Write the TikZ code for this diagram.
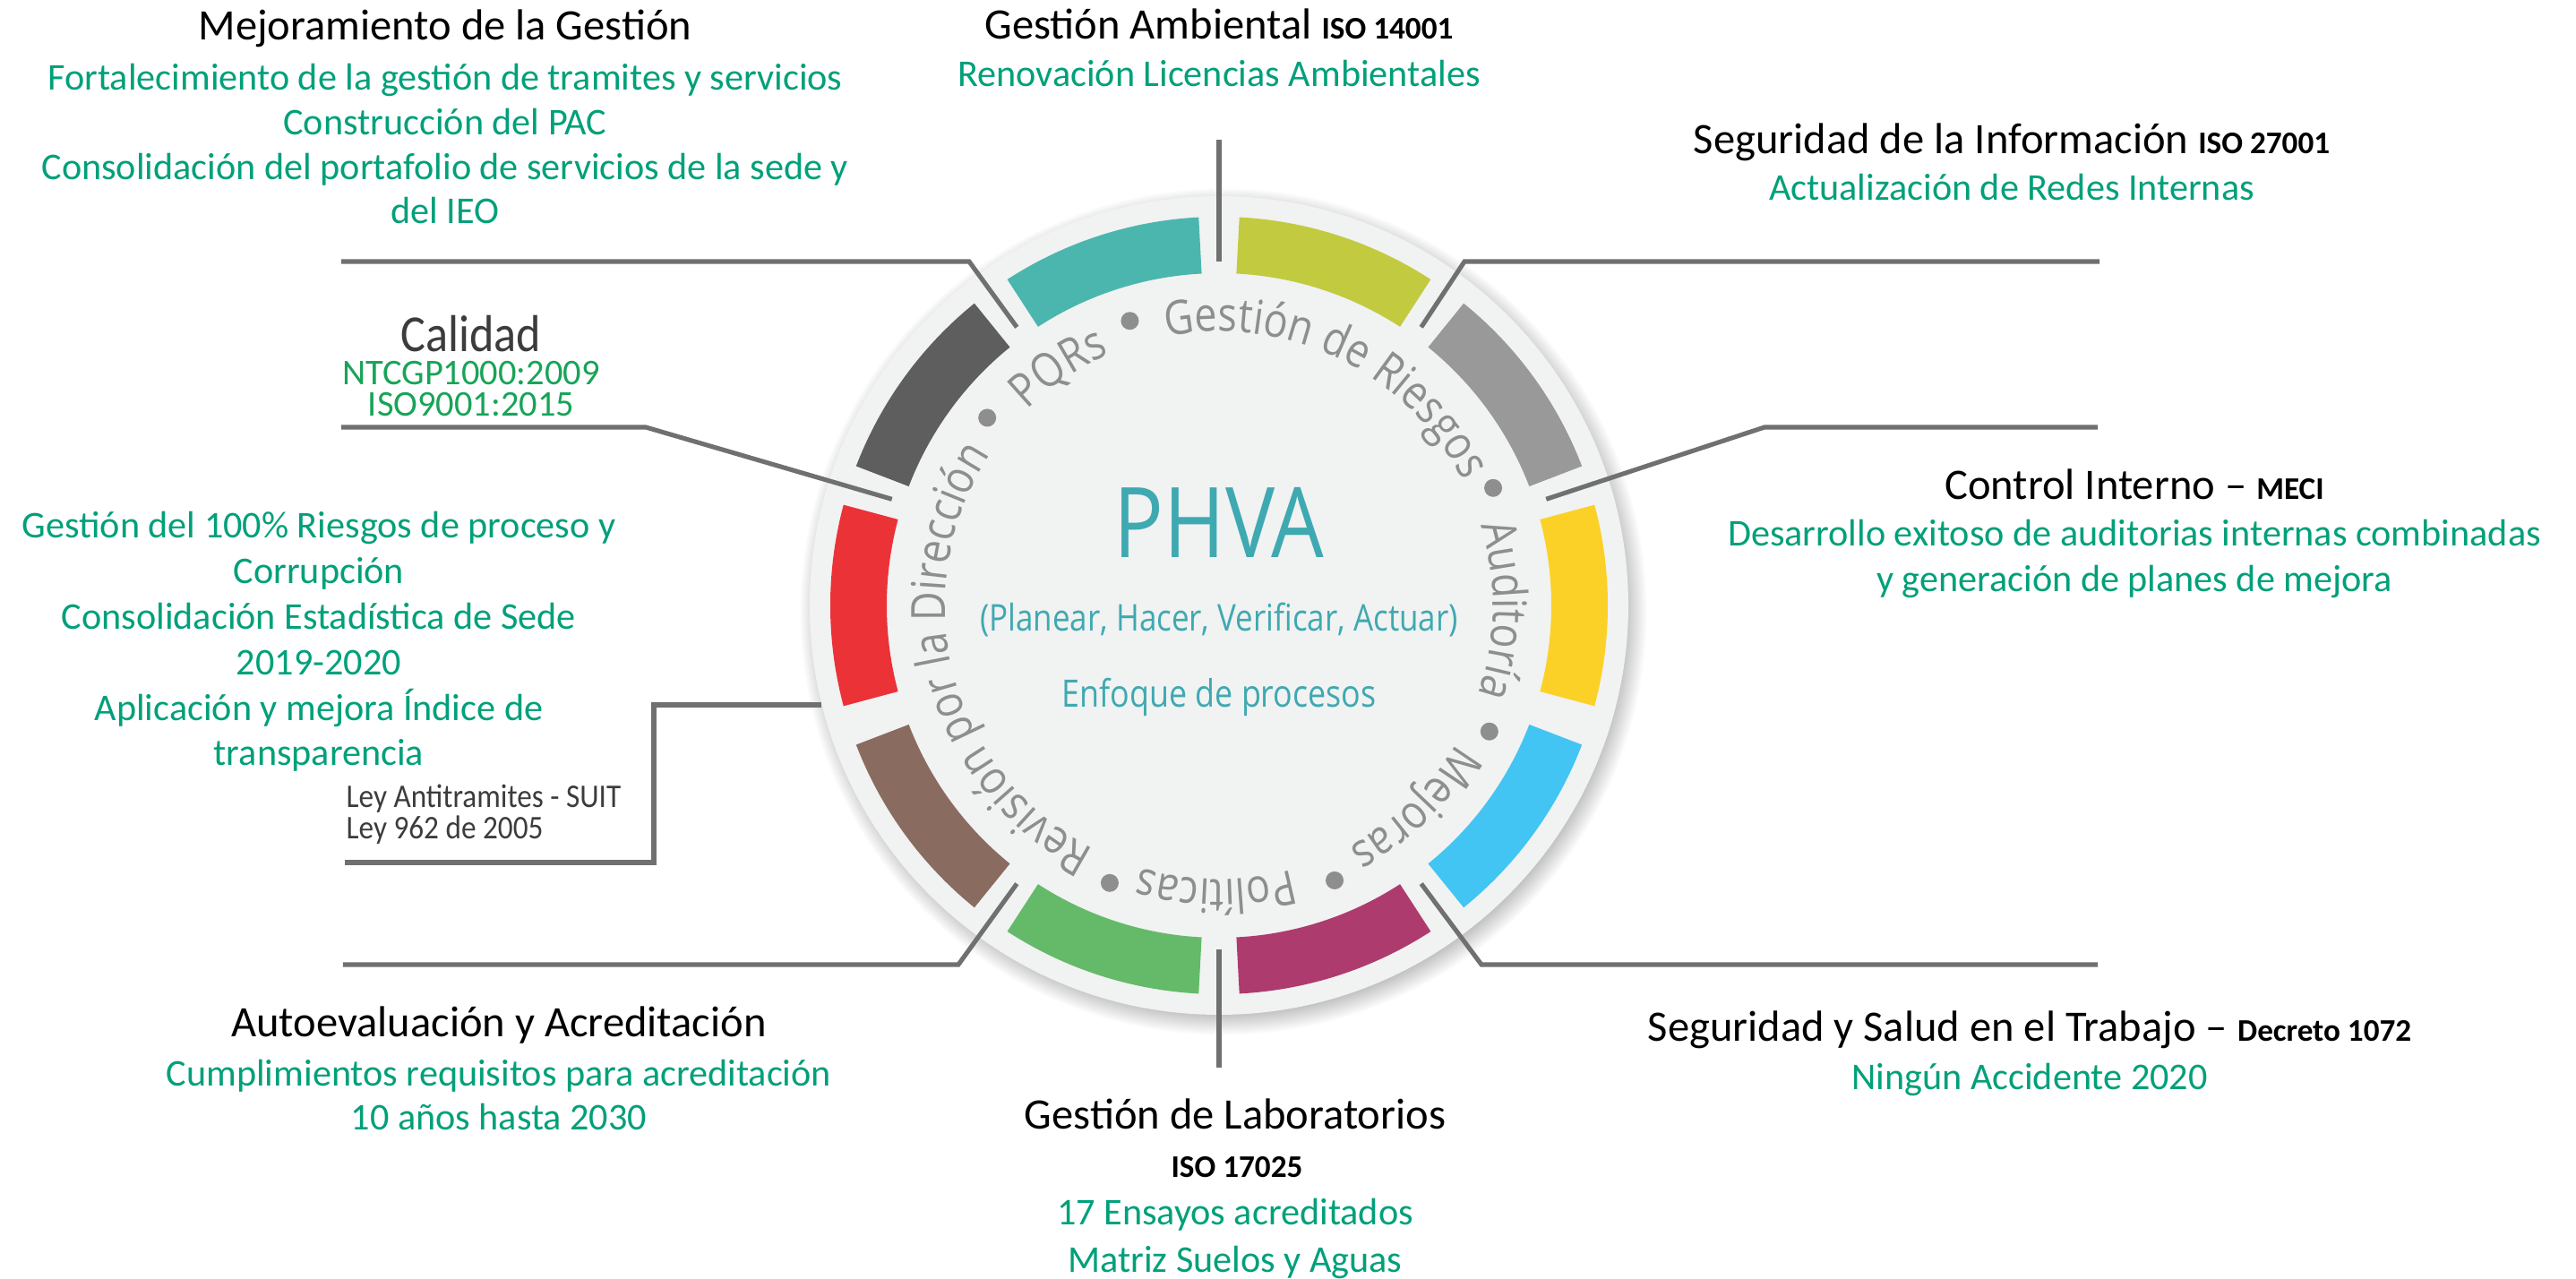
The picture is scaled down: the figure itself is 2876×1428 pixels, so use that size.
\documentclass[tikz,border=0pt]{standalone}
\usepackage{fontspec}
\setmainfont{Carlito}
\newfontfamily\ringfont[FakeStretch=0.85]{Open Sans}
\newfontfamily\condfont[FakeStretch=0.9]{Carlito}
\usetikzlibrary{decorations.text}

\definecolor{txtgreen}{RGB}{0,160,122}
\definecolor{isogreen}{RGB}{24,164,88}
\definecolor{ringgray}{RGB}{142,142,142}
\definecolor{phvateal}{RGB}{63,169,177}
\definecolor{diskgray}{RGB}{241,242,242}
\definecolor{linegray}{RGB}{112,112,115}
\definecolor{lawgray}{RGB}{60,60,60}
\definecolor{segolive}{RGB}{194,203,63}
\definecolor{seggray}{RGB}{153,153,153}
\definecolor{segyellow}{RGB}{251,209,39}
\definecolor{segblue}{RGB}{66,197,242}
\definecolor{segmagenta}{RGB}{174,59,110}
\definecolor{seggreen}{RGB}{101,186,106}
\definecolor{segbrown}{RGB}{138,107,96}
\definecolor{segred}{RGB}{235,50,55}
\definecolor{segdark}{RGB}{94,94,94}
\definecolor{segteal}{RGB}{75,182,174}

\newcommand{\isotag}[1]{{\fontsize{10}{12}\selectfont\bfseries #1}}
\newcommand{\ringword}[3]{%
	\path [decorate,decoration={text along path,text align=center,
		text={|\ringfont\fontsize{15}{15}\selectfont\color{ringgray}|#3}}]
		(#1+#2:306) arc [start angle=#1+#2,end angle=#1-#2,radius=306];}

\begin{document}
\begin{tikzpicture}[x=0.01cm,y=0.01cm,
	title/.style={font=\fontsize{13.8}{16}\selectfont,inner sep=0pt,anchor=base},
	body/.style={font=\fontsize{12}{14.4}\selectfont,text=txtgreen,align=center,inner sep=0pt,anchor=base},
	conn/.style={draw=linegray,line width=1.45pt}]
	\useasboundingbox (-1361,-752) rectangle (1515,676);
	\fill [white] (-1361,-752) rectangle (1515,676);

	\foreach \k in {0,...,14}
		\fill [black,opacity=0.016] (5,-7) circle (450+1.6*\k);
	\fill [diskgray] (0,0) circle (457);
	\foreach \ang/\col in {72/segolive,36/seggray,0/segyellow,-36/segblue,-72/segmagenta,-108/seggreen,-144/segbrown,180/segred,144/segdark,108/segteal}
		\fill [\col] (\ang-15:371) arc [start angle=\ang-15,end angle=\ang+15,radius=371]
			-- (\ang+15:434) arc [start angle=\ang+15,end angle=\ang-15,radius=434] -- cycle;

	\ringword{124}{25}{PQRs}
	\ringword{64}{55}{Gestión de Riesgos}
	\ringword{-1}{30}{Auditoría}
	\ringword{-46}{28}{Mejoras}
	\ringword{-90.6}{30}{Políticas}
	\ringword{194.7}{65}{Revisión por la Dirección}
	\foreach \ang in {141,107.4,23.2,-25,-67.2,-111.5}
		\fill [ringgray] (\ang:333) circle (10);

	\node [font=\ringfont\fontsize{31}{31}\selectfont,text=phvateal,inner sep=0pt,anchor=base] (PHVA) at (0,53) {PHVA};
	\node [font=\ringfont\fontsize{11.7}{14}\selectfont,text=phvateal,inner sep=0pt,anchor=base] (PL) at (0,-29) {(Planear, Hacer, Verificar, Actuar)};
	\node [font=\ringfont\fontsize{12}{14}\selectfont,text=phvateal,inner sep=0pt,anchor=base] (EP) at (0,-114) {Enfoque de procesos};

	\foreach \ang in {18,54,90,126,162,234,270,306}
		\coordinate (G\ang) at (\ang:384);

	\node [title] (GA) at (0,632) {Gestión Ambiental \isotag{ISO 14001}};
	\node [body] (GAtxt) at (0,579) {Renovación Licencias Ambientales};
	\node [title] (MG) at (-864,631) {Mejoramiento de la Gestión};
	\node [body,font=\fontsize{12}{14.2}\selectfont] (MGtxt) at (-864,426) {Fortalecimiento de la gestión de tramites y servicios\\Construcción del PAC\\Consolidación del portafolio de servicios de la sede y\\del IEO};
	\node [title,font=\condfont\fontsize{16.5}{18}\selectfont,text=lawgray] (CA) at (-835,283) {Calidad};
	\node [body,font=\fontsize{11.5}{10}\selectfont,text=isogreen] (CAtxt) at (-835,211) {NTCGP1000:2009\\ISO9001:2015};
	\node [body,font=\fontsize{12}{14.5}\selectfont] (GRtxt) at (-1005,-179) {Gestión del 100\% Riesgos de proceso y\\Corrupción\\Consolidación Estadística de Sede\\2019-2020\\Aplicación y mejora Índice de\\transparencia};
	\node [font=\condfont\fontsize{10.5}{8.25}\selectfont,text=lawgray,align=left,inner sep=0pt,anchor=base west] (LY) at (-975,-261) {Ley Antitramites - SUIT\\Ley 962 de 2005};
	\node [title] (AU) at (-804,-482) {Autoevaluación y Acreditación};
	\node [body,font=\fontsize{12}{14.2}\selectfont] (AUtxt) at (-804,-586) {Cumplimientos requisitos para acreditación\\10 años hasta 2030};
	\node [title] (GL) at (18,-584) {Gestión de Laboratorios};
	\node [title,font=\fontsize{10}{12}\selectfont\bfseries] (GLiso) at (20,-639) {ISO 17025};
	\node [body,font=\fontsize{12}{14.8}\selectfont] (GLtxt) at (18,-744) {17 Ensayos acreditados\\Matriz Suelos y Aguas};
	\node [title] (SI) at (885,504) {Seguridad de la Información \isotag{ISO 27001}};
	\node [body] (SItxt) at (885,452) {Actualización de Redes Internas};
	\node [title] (CI) at (1022,118) {Control Interno – \isotag{MECI}};
	\node [body,font=\fontsize{12}{14.65}\selectfont] (CItxt) at (1022,15) {Desarrollo exitoso de auditorias internas combinadas\\y generación de planes de mejora};
	\node [title] (SS) at (905,-487) {Seguridad y Salud en el Trabajo – \isotag{Decreto 1072}};
	\node [body] (SStxt) at (905,-541) {Ningún Accidente 2020};

	\coordinate (GA1) at (0,520);
	\coordinate (GL1) at (0,-516);
	\coordinate (MG1) at (-980,384);
	\coordinate (MG2) at (-279,384);
	\coordinate (CA1) at (-980,199);
	\coordinate (CA2) at (-640,199);
	\coordinate (LY1) at (-976,-287);
	\coordinate (LY2) at (-631,-287);
	\coordinate (LY3) at (-631,-111);
	\coordinate (LY4) at (-444,-111);
	\coordinate (AU1) at (-978,-401);
	\coordinate (AU2) at (-291,-401);
	\coordinate (SI1) at (274,384);
	\coordinate (SI2) at (983,384);
	\coordinate (CI1) at (609,199);
	\coordinate (CI2) at (981,199);
	\coordinate (SS1) at (293,-401);
	\coordinate (SS2) at (981,-401);

	\draw [conn] (GA1) -- (G90);
	\draw [conn] (G270) -- (GL1);
	\draw [conn] (MG1) -- (MG2) -- (G126);
	\draw [conn] (CA1) -- (CA2) -- (G162);
	\draw [conn] (LY1) -- (LY2) -- (LY3) -- (LY4);
	\draw [conn] (AU1) -- (AU2) -- (G234);
	\draw [conn] (G54) -- (SI1) -- (SI2);
	\draw [conn] (G18) -- (CI1) -- (CI2);
	\draw [conn] (G306) -- (SS1) -- (SS2);
\end{tikzpicture}
\end{document}
